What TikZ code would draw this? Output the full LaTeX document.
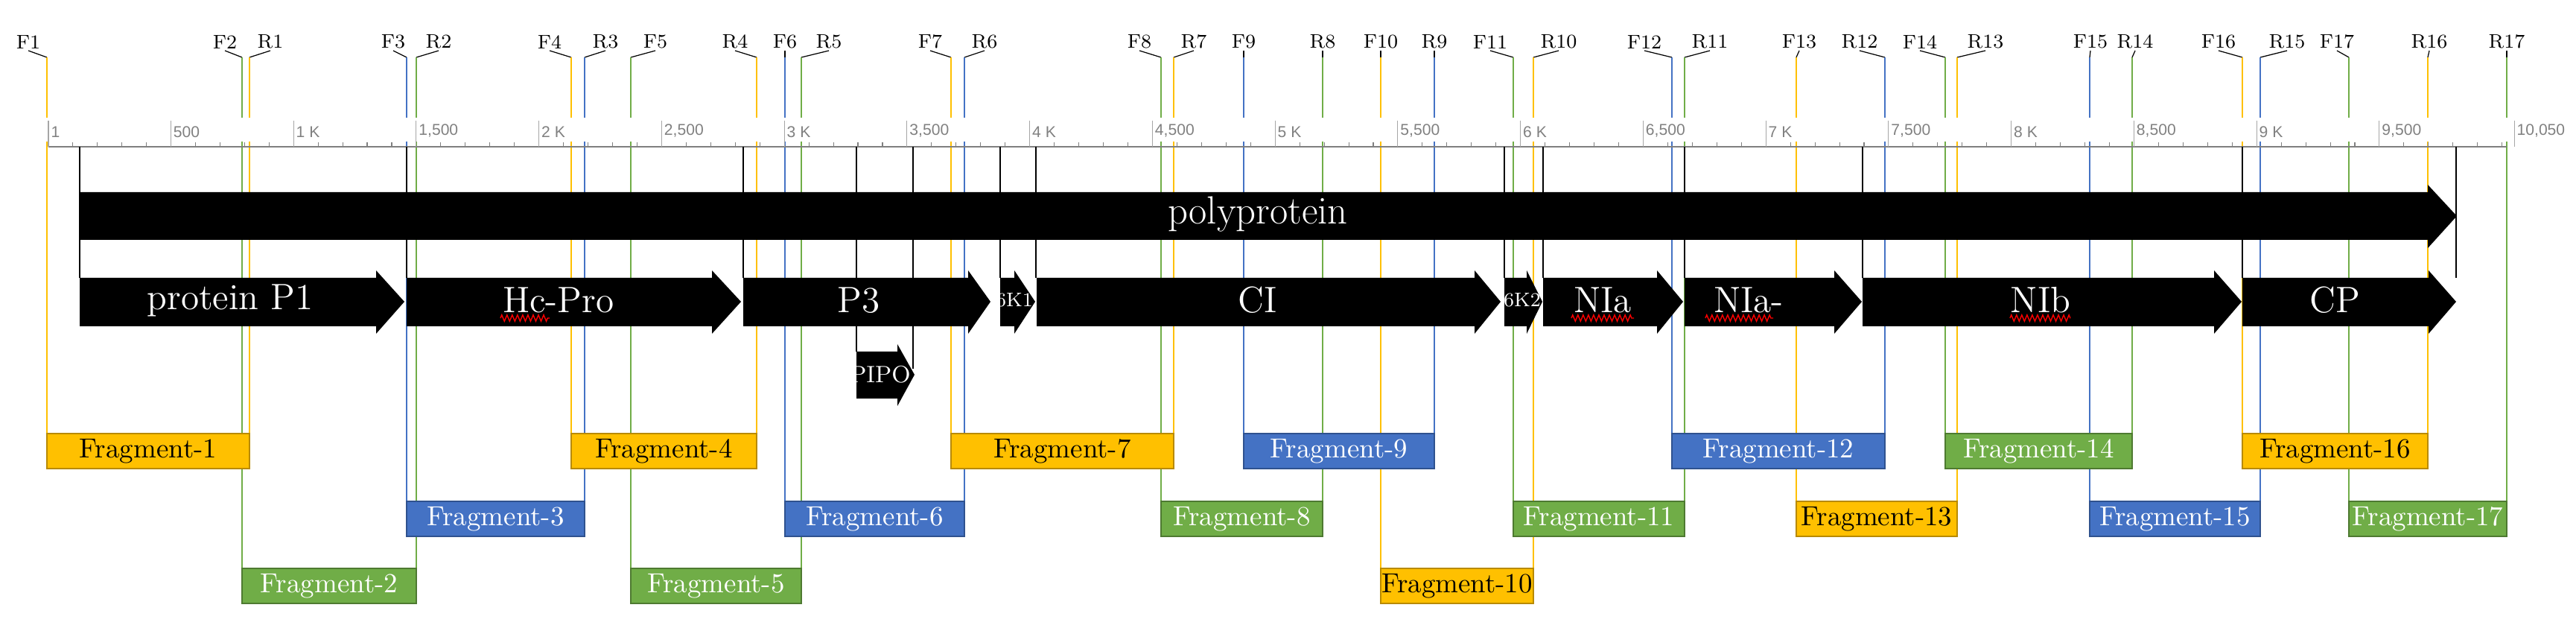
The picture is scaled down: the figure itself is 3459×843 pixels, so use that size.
\documentclass[tikz,border=0pt]{standalone}
\usepackage{fontspec}
\setsansfont{Liberation Sans}
\usetikzlibrary{decorations.pathmorphing}
\definecolor{fy}{HTML}{FFC000}
\definecolor{fg}{HTML}{70AD47}
\definecolor{fb}{HTML}{4472C4}
\definecolor{fyd}{HTML}{B88A00}
\definecolor{fgd}{HTML}{4E7A31}
\definecolor{fbd}{HTML}{2F528F}
\tikzset{
  pline/.style={draw=#1,line width=0.7pt},
  lead/.style={draw=black,line width=0.35pt},
  bound/.style={draw=black,line width=0.45pt},
  plabel/.style={font=\fontsize{7.5}{8}\selectfont,inner sep=0.5pt,anchor=south},
  ticklab/.style={font=\sffamily\fontsize{6}{7}\selectfont,text=gray,anchor=south west,inner sep=0.8pt},
  gene/.style={fill=black,draw=none},
  glab/.style={text=white,font=\fontsize{14}{16}\selectfont,inner sep=0pt},
  frag/.style={inner sep=0pt,font=\fontsize{10.5}{12}\selectfont,line width=0.5pt},
  spell/.style={draw=red,line width=0.4pt,decorate,decoration={zigzag,amplitude=1.2pt,segment length=2pt}}
}
\begin{document}
\begin{tikzpicture}[x=0.01cm,y=-0.01cm]
\useasboundingbox (0,0) rectangle (3459,843);
% primer lines
\foreach \n/\lx/\tx/\c/\ry in {F1/63/38/fy/582,R1/335/363/fy/582,F2/325/302/fg/763,R2/559/589/fg/763,F3/546/528/fb/673,R3/785/813/fb/673,F4/767/738/fy/582,R4/1016/987/fy/582,F5/847/880/fg/763,R5/1076/1113/fg/763,F6/1054/1054/fb/673,R6/1295/1322/fb/673,F7/1277/1249/fy/582,R7/1576/1603/fy/582,F8/1559/1530/fg/673,R8/1776/1776/fg/673,F9/1670/1670/fb/582,R9/1926/1926/fb/582,F10/1854/1854/fy/763,R10/2059/2093/fy/763,F11/2032/2001/fg/673,R11/2262/2296/fg/673,F12/2245/2208/fb/582,R12/2531/2497/fb/582,F13/2412/2416/fy/673,R13/2628/2666/fy/673,F14/2612/2578/fg/582,R14/2863/2867/fg/582,F15/2806/2807/fb/673,R15/3035/3071/fb/673,F16/3011/2979/fy/582,R16/3260/3262/fy/582,F17/3154/3138/fg/673,R17/3366/3366/fg/673}{
  \node[plabel] (l\n) at (\tx,68) {\n};
  \coordinate (t\n) at (\lx,77);
  \coordinate (a\n) at (\lx,158);
  \coordinate (b\n) at (\lx,190);
  \coordinate (e\n) at (\lx,\ry);
  \draw[lead] (l\n.south) -- (t\n);
  \draw[pline=\c] (t\n) -- (a\n);
  \draw[pline=\c] (b\n) -- (e\n);
}
% axis
\coordinate (ax0) at (65,197);
\coordinate (ax1) at (3366,197);
\draw[gray,line width=0.8pt] (ax0) -- (ax1);
\foreach \b in {100,200,...,10000}{
  \pgfmathsetmacro\xx{65+0.3295*(\b-1)}
  \draw[gray,line width=0.3pt] (\xx,191) -- (\xx,197);
}
\foreach \b/\t in {1/1,500/500,1000/1 K,1500/{1,500},2000/2 K,2500/{2,500},3000/3 K,3500/{3,500},4000/4 K,4500/{4,500},5000/5 K,5500/{5,500},6000/6 K,6500/{6,500},7000/7 K,7500/{7,500},8000/8 K,8500/{8,500},9000/9 K,9500/{9,500},10050/{10,050}}{
  \pgfmathsetmacro\xx{65+0.3295*(\b-1)}
  \draw[gray!70,line width=0.3pt] (\xx,162) -- (\xx,197);
  \node[ticklab] (tk\b) at (\xx,188) {\t};
}
% boundary lines
\foreach \x in {107,546,998,1150,1226,1343,1391,2020,2072,2262,2501,3011,3298}{
  \draw[bound] (\x,197) -- (\x,373);
}
\draw[bound] (1150,438) -- (1150,472);
\draw[bound] (1226,438) -- (1226,495);
% polyprotein
\path[gene] (107,258) -- (3260,258) -- (3260,248) -- (3299,290) -- (3260,333) -- (3260,322) -- (107,322) -- cycle;
\node[glab,font=\fontsize{15}{17}\selectfont] (poly) at (1689,288) {polyprotein};
% gene arrows
\foreach \nm/\xa/\xb/\xt/\xl/\lab in {p1/107/505/543/309/protein P1,hc/546/956/995/750/Hc-Pro,p3/998/1300/1330/1153/P3,ci/1392/1980/2015/1689/CI,nia/2072/2225/2260/2152/NIa,niap/2262/2463/2500/2348/NIa-,nib/2501/2973/3010/2740/NIb,cp/3011/3261/3298/3135/CP}{
  \path[gene] (\xa,373) -- (\xb,373) -- (\xb,363) -- (\xt,405) -- (\xb,448) -- (\xb,438) -- (\xa,438) -- cycle;
  \node[glab] (g\nm) at (\xl,403) {\lab};
}
\foreach \nm/\xa/\xb/\xt/\xl/\lab in {sk/1343/1362/1390/1362/6K1,sko/2020/2050/2071/2044/6K2}{
  \path[gene] (\xa,373) -- (\xb,373) -- (\xb,363) -- (\xt,405) -- (\xb,448) -- (\xb,438) -- (\xa,438) -- cycle;
  \node[glab,font=\fontsize{7.5}{8}\selectfont] (g\nm) at (\xl,403) {\lab};
}
% spell marks
\draw[spell] (672,427) -- (738,427);
\draw[spell] (2110,427) -- (2194,427);
\draw[spell] (2290,427) -- (2381,427);
\draw[spell] (2699,427) -- (2780,427);
% PIPO
\path[gene] (1150,472) -- (1205,472) -- (1205,462) -- (1228,503) -- (1205,545) -- (1205,535) -- (1150,535) -- cycle;
\node[text=white,font=\fontsize{9}{10}\selectfont,inner sep=0pt] (pipo) at (1182,503) {PIPO};
% fragments
\foreach \i/\F/\R/\rt/\fc/\tc in {1/63/335/582/fy/black,2/325/559/763/fg/white,3/546/785/673/fb/white,4/767/1016/582/fy/black,5/847/1076/763/fg/white,6/1054/1295/673/fb/white,7/1277/1576/582/fy/black,8/1559/1776/673/fg/white,9/1670/1926/582/fb/white,10/1854/2059/763/fy/black,11/2032/2262/673/fg/white,12/2245/2531/582/fb/white,13/2412/2628/673/fy/black,14/2612/2863/582/fg/white,15/2806/3035/673/fb/white,16/3011/3260/582/fy/black,17/3154/3366/673/fg/white}{
  \pgfmathsetmacro\w{(\R-\F)*0.01}
  \pgfmathsetmacro\cx{(\F+\R)/2}
  \pgfmathsetmacro\cy{\rt+23.5}
  \node[frag,fill=\fc,draw=\fc d,text=\tc,minimum width=\w cm,minimum height=0.47cm] (frag\i) at (\cx,\cy) {Fragment-\i};
}
\end{tikzpicture}
\end{document}
